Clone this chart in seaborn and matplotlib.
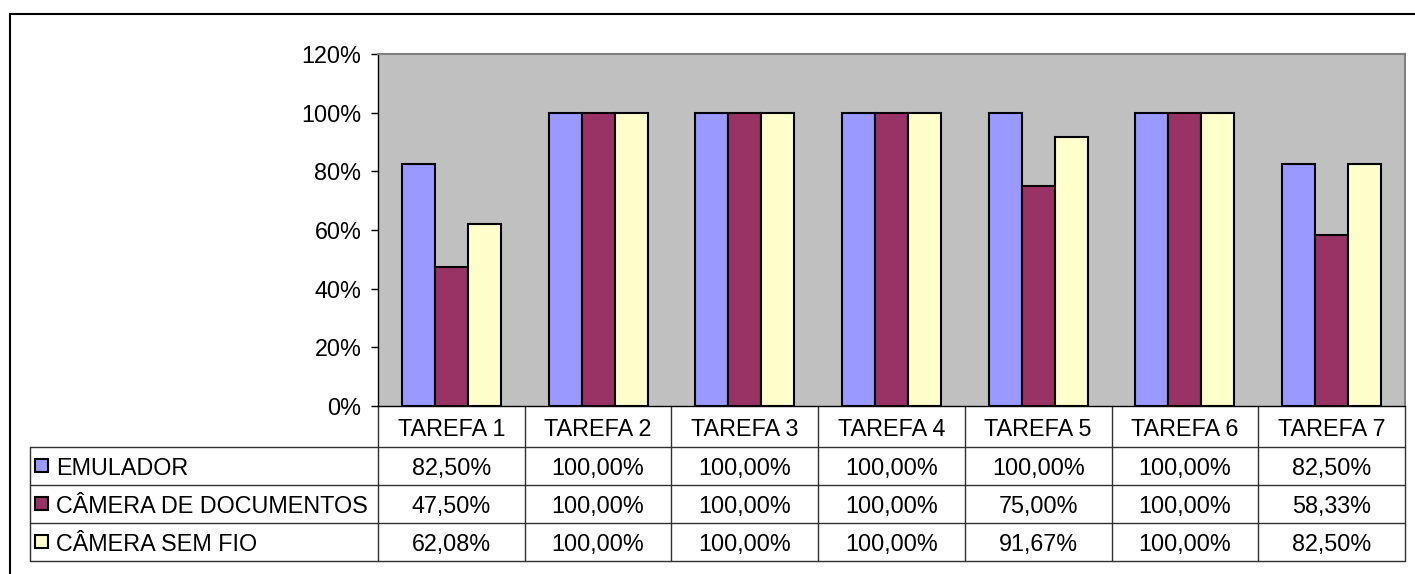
import pandas as pd
import numpy as np
import matplotlib
matplotlib.use("Agg")
import matplotlib.pyplot as plt
import seaborn as sns
from matplotlib.patches import Rectangle
from matplotlib.ticker import FuncFormatter

# Dados do gráfico
tarefas = ['TAREFA 1', 'TAREFA 2', 'TAREFA 3', 'TAREFA 4', 'TAREFA 5', 'TAREFA 6', 'TAREFA 7']
series = ['EMULADOR', 'CÂMERA DE DOCUMENTOS', 'CÂMERA SEM FIO']
emulador = [82.50, 100.00, 100.00, 100.00, 100.00, 100.00, 82.50]
camera_doc = [47.50, 100.00, 100.00, 100.00, 75.00, 100.00, 58.33]
camera_sem_fio = [62.08, 100.00, 100.00, 100.00, 91.67, 100.00, 82.50]
cores = ['#9999FF', '#993366', '#FFFFCC']

valores = [emulador, camera_doc, camera_sem_fio]
df = pd.DataFrame({
    'tarefa': tarefas * 3,
    'serie': [s for s in series for _ in tarefas],
    'valor': emulador + camera_doc + camera_sem_fio,
})

sns.set_style("white")
plt.rcParams['font.family'] = ['Liberation Sans', 'DejaVu Sans']
plt.rcParams['text.color'] = 'black'
plt.rcParams['ytick.color'] = 'black'
plt.rcParams['ytick.labelcolor'] = 'black'
fs = 16.8

fig = plt.figure(figsize=(14.15, 5.74), dpi=100)
ax = fig.add_axes([378 / 1415, 1 - 406 / 574, 1027 / 1415, 352 / 574])

sns.barplot(data=df, x='tarefa', y='valor', hue='serie', order=tarefas, hue_order=series,
            palette=cores, width=0.675, gap=0, edgecolor='black', linewidth=1.5,
            saturation=1, legend=False, ax=ax)

ax.set_facecolor('#C0C0C0')
ax.set_ylim(0, 120)
ax.set_xlim(-0.5, len(tarefas) - 0.5)
ax.set_yticks(np.arange(0, 121, 20))
ax.yaxis.set_major_formatter(FuncFormatter(lambda v, p: f"{v:.0f}%"))
ax.tick_params(axis='y', direction='out', length=5, width=1, color='black', labelsize=fs,
               labelcolor='black', pad=7, left=True)
ax.set_xticks([])
ax.set_xlabel('')
ax.set_ylabel('')
for s in ['top', 'right']:
    ax.spines[s].set_color('#808080')
    ax.spines[s].set_linewidth(1.5)
for s in ['left', 'bottom']:
    ax.spines[s].set_color('black')
    ax.spines[s].set_linewidth(1)

# Tabela de dados abaixo do gráfico
tr = ax.transAxes
n = len(tarefas)
x_left = (30 - 378) / 1027
linhas_y = [0, -0.1165, -0.2244, -0.3324, -0.4403]
cor_linha = '#303030'
kw = dict(transform=tr, clip_on=False, color=cor_linha, lw=1)

for k in range(n + 1):
    ax.plot([k / n, k / n], [0, linhas_y[-1]], **kw)
ax.plot([x_left, x_left], [linhas_y[1], linhas_y[-1]], **kw)
for yy in linhas_y[1:]:
    ax.plot([x_left, 1], [yy, yy], **kw)

for i, t in enumerate(tarefas):
    ax.text((i + 0.5) / n, (linhas_y[0] + linhas_y[1]) / 2, t, transform=tr,
            ha='center', va='center_baseline', fontsize=fs, color='black')

for r, (nome, vals, cor) in enumerate(zip(series, valores, cores)):
    yc = (linhas_y[r + 1] + linhas_y[r + 2]) / 2
    sq_w = 13 / 1027
    sq_h = 13 / 352
    ax.add_patch(Rectangle((x_left + 5 / 1027, yc - sq_h / 2), sq_w, sq_h, transform=tr,
                           facecolor=cor, edgecolor='black', lw=1.5, clip_on=False))
    ax.text(x_left + 26 / 1027, yc, nome, transform=tr, ha='left', va='center_baseline',
            fontsize=fs, color='black')
    for i, v in enumerate(vals):
        ax.text((i + 0.5) / n, yc, f"{v:.2f}%".replace('.', ','), transform=tr,
                ha='center', va='center_baseline', fontsize=fs, color='black')

# Borda externa do gráfico
fig.patches.append(Rectangle((10 / 1415, -0.1), 1.2, 1.1 - 14 / 574, transform=fig.transFigure,
                             facecolor='none', edgecolor='black', lw=1.5))

plt.savefig('out.png', dpi=100)
